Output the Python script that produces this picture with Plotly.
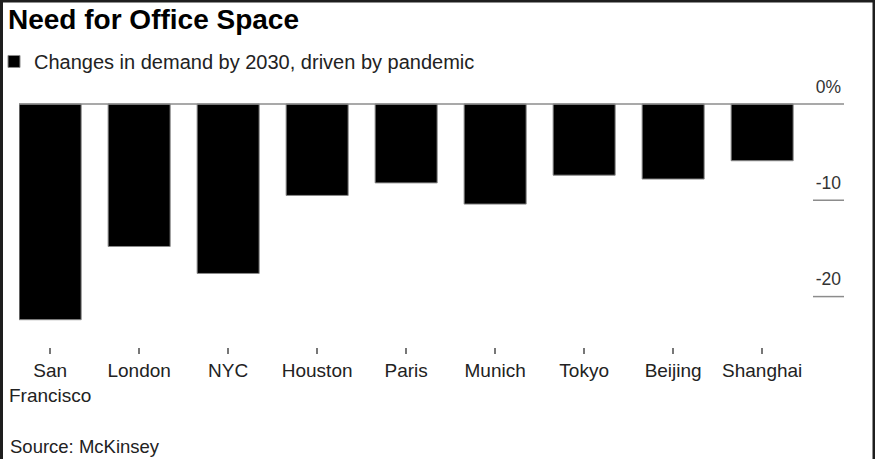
import plotly.graph_objects as go

cities = ["San<br>Francisco", "London", "NYC", "Houston", "Paris", "Munich", "Tokyo", "Beijing", "Shanghai"]
changes = [-22.4, -14.8, -17.6, -9.5, -8.2, -10.4, -7.4, -7.8, -5.9]
y_ticks = [0, -10, -20]
y_ticktext = ["0%", "-10", "-20"]
series_name = "Changes in demand by 2030, driven by pandemic"

W, H = 875, 459
px_per_unit = 9.65
cat_px = 89
zero_px = 103.5
y_top = 3.0
ML, MR, MB = 19, 31, 112
MT = zero_px - y_top * px_per_unit
PW = W - ML - MR
PH = H - MT - MB

FONT = "Liberation Sans, Arial, sans-serif"

def px_x(p):
    return (p - ML) / PW

def px_y(p):
    return (H - MB - p) / PH

fig = go.Figure()
fig.add_trace(go.Bar(
    x=list(range(len(cities))), y=changes, name=series_name,
    marker=dict(color="#000000", line=dict(color="#8a8a8a", width=1)),
    showlegend=True,
))

shapes = []
for v in y_ticks:
    shapes.append(dict(type="line", xref="paper", yref="y",
                       x0=0 if v == 0 else px_x(813), x1=1, y0=v, y1=v,
                       line=dict(color="#8c8c8c", width=1.5), layer="above"))
border = "#1e1e1e"
shapes += [
    dict(type="rect", xref="paper", yref="paper", x0=px_x(-1), x1=px_x(3), y0=px_y(H + 1), y1=px_y(-1),
         fillcolor=border, line=dict(width=0)),
    dict(type="rect", xref="paper", yref="paper", x0=px_x(872.5), x1=px_x(876), y0=px_y(H + 1), y1=px_y(-1),
         fillcolor=border, line=dict(width=0)),
    dict(type="rect", xref="paper", yref="paper", x0=px_x(-1), x1=px_x(876), y0=px_y(2), y1=px_y(-1),
         fillcolor=border, line=dict(width=0)),
]

fig.update_layout(
    width=W, height=H,
    margin=dict(l=ML, r=MR, t=MT, b=MB, autoexpand=False),
    paper_bgcolor="white", plot_bgcolor="white",
    font=dict(family=FONT, color="#222222"),
    bargap=0.303,
    title=dict(text="<b>Need for Office Space</b>", font=dict(size=28, color="#000000", family=FONT),
               x=8 / W, xanchor="left", xref="container", y=1 - 19.5 / H, yanchor="middle", yref="container"),
    legend=dict(orientation="h", x=px_x(-6), xanchor="left", y=px_y(61), yanchor="middle",
                font=dict(size=20, color="#222222"), bgcolor="rgba(0,0,0,0)"),
    xaxis=dict(
        tickmode="array", tickvals=list(range(len(cities))), ticktext=cities,
        range=[-0.35, -0.35 + PW / cat_px],
        showgrid=False, zeroline=False, showline=False,
        ticks="outside", ticklen=6, tickwidth=1.5, tickcolor="#777777",
        tickfont=dict(size=19, color="#222222"),
    ),
    yaxis=dict(
        side="right", range=[-(H - MB - zero_px) / px_per_unit, y_top],
        tickmode="array", tickvals=y_ticks, ticktext=y_ticktext,
        ticklabelposition="inside top", ticklabelshift=-5,
        showgrid=False, zeroline=False, showline=False, ticks="",
        tickfont=dict(size=17.5, color="#333333"),
    ),
    shapes=shapes,
    annotations=[dict(text="Source: McKinsey", xref="paper", yref="paper", x=px_x(8), y=px_y(447),
                      xanchor="left", yanchor="middle", showarrow=False,
                      font=dict(size=18.5, color="#222222"))],
)

fig.write_html("out.html")
